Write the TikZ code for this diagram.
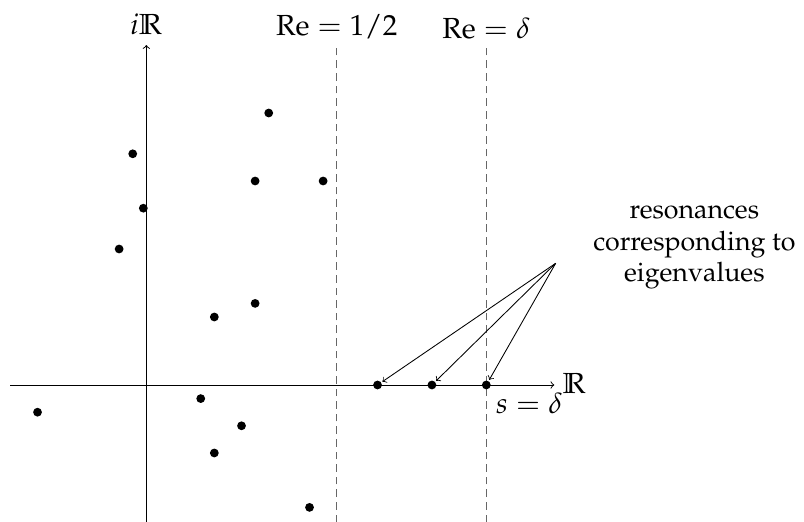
\documentclass[tikz,border=0pt]{standalone}
\usepackage[T1]{fontenc}
\usepackage{mathpazo}
\usepackage{amssymb}
\begin{document}
\begin{tikzpicture}[x=0.25cm,y=0.25cm,
  dot/.style={circle,fill=black,inner sep=0pt,minimum size=4.6pt,outer sep=0.8pt},
  axis/.style={line width=0.5pt,->},
  guide/.style={line width=0.5pt,gray!80!black,dash pattern=on 4pt off 2.6pt},
  lbl/.style={font=\fontsize{14}{16.4}\selectfont},
  mlbl/.style={font=\fontsize{15.2}{18}\selectfont},
  pointer/.style={line width=0.45pt,->}]
\useasboundingbox (-10.76,-10.07) rectangle (48.36,28.31);
% axes
\coordinate (xs) at (-10,0);
\coordinate (xe) at (30,0);
\coordinate (ys) at (0,-10.1);
\coordinate (ye) at (0,25);
\draw[axis] (xs) -- (xe);
\draw[axis] (ys) -- (ye);
\node[mlbl,anchor=west,inner sep=2pt] (xl) at (30.3,0.1) {$\mathbb{R}$};
\node[mlbl,anchor=south,inner sep=5pt] (yl) at (ye) {$i\mathbb{R}$};
% guides
\coordinate (h1) at (14,-10.1);
\coordinate (h2) at (14,25);
\coordinate (g1) at (25,-10.1);
\coordinate (g2) at (25,25);
\draw[guide] (h1) -- (h2);
\draw[guide] (g1) -- (g2);
\node[mlbl,anchor=south,inner sep=3pt] (hl) at (h2) {$\mathrm{Re} = 1/2$};
\node[mlbl,anchor=south,inner sep=3pt] (gl) at (g2) {$\mathrm{Re} = \delta$};
% dots
\foreach \n/\p in {a/{9,20},b/{-1,17},c/{8,15},d/{13,15},e/{-0.22,13},f/{-2,10},g/{8,6},h/{5,5},i/{4,-1},j/{-8,-2},k/{7,-3},l/{5,-5},m/{12,-9}}
  \node[dot] (\n) at (\p) {};
\node[dot] (r1) at (17,0) {};
\node[dot] (r2) at (21,0) {};
\node[dot] (r3) at (25,0) {};
\node[mlbl,anchor=north west,inner sep=2pt] (sl) at (25.4,-0.3) {$s = \delta$};
% annotation
\node[lbl,align=center] (txt) at (40.3,10.1) {resonances\\corresponding to\\eigenvalues};
\coordinate (src) at (30.1,8.95);
\draw[pointer] (src) -- (r1);
\draw[pointer] (src) -- (r2);
\draw[pointer] (src) -- (r3);
\end{tikzpicture}
\end{document}
